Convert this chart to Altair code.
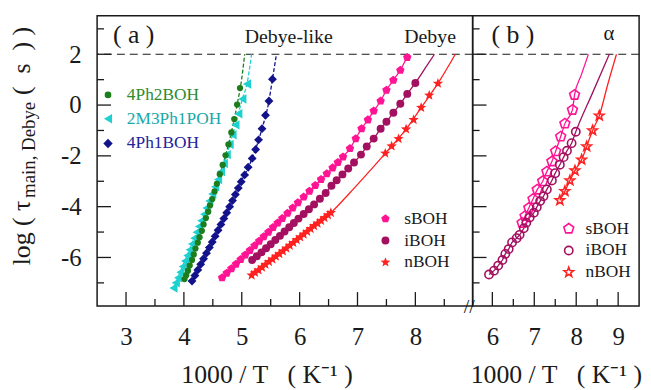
import altair as alt
import pandas as pd

FONT = "Liberation Serif"
INK = "#1a1a1a"

# ---------------- panel (a): Debye-like and Debye relaxation times ----------------
ph2_x = [4.01, 4.04, 4.07, 4.10, 4.14, 4.17, 4.20, 4.24, 4.27, 4.31, 4.34, 4.38, 4.42,
         4.45, 4.49, 4.53, 4.57, 4.62, 4.67, 4.72, 4.77, 4.82, 4.87, 4.92, 4.97]
ph2_y = [-6.85, -6.70, -6.52, -6.32, -6.10, -5.88, -5.65, -5.42, -5.20, -4.95, -4.70, -4.45, -4.20,
         -3.95, -3.70, -3.40, -3.10, -2.72, -2.36, -1.98, -1.55, -1.08, -0.55, 0.02, 0.67]
ph2_fit_x = [4.01, 4.30, 4.57, 4.77, 4.92, 5.00, 5.05]
ph2_fit_y = [-6.85, -4.95, -3.10, -1.55, 0.02, 1.05, 2.00]

m3p_x = [3.82, 3.86, 3.90, 3.94, 3.98, 4.02, 4.06, 4.10, 4.14, 4.18, 4.22, 4.26, 4.30, 4.35,
         4.39, 4.44, 4.49, 4.54, 4.59, 4.64, 4.69, 4.74, 4.79, 4.84, 4.89, 4.94, 5.01, 5.09]
m3p_y = [-7.20, -7.00, -6.80, -6.58, -6.36, -6.14, -5.92, -5.70, -5.47, -5.24, -5.01, -4.78, -4.55, -4.30,
         -4.05, -3.78, -3.50, -3.22, -2.93, -2.62, -2.30, -1.95, -1.55, -1.17, -0.78, -0.34, 0.24, 0.83]
m3p_fit_x = [3.82, 4.30, 4.69, 4.89, 5.01, 5.09, 5.17]
m3p_fit_y = [-7.20, -4.55, -2.30, -0.78, 0.24, 0.83, 2.00]

ph1_x = [4.14, 4.19, 4.24, 4.29, 4.34, 4.39, 4.44, 4.49, 4.54, 4.59, 4.64, 4.69, 4.74, 4.79,
         4.84, 4.89, 4.94, 4.99, 5.05, 5.11, 5.18, 5.24, 5.29, 5.35, 5.41, 5.47, 5.53]
ph1_y = [-6.93, -6.71, -6.49, -6.27, -6.05, -5.83, -5.61, -5.39, -5.16, -4.93, -4.70, -4.47, -4.24, -4.00,
         -3.76, -3.52, -3.27, -3.02, -2.75, -2.45, -2.10, -1.75, -1.37, -0.93, -0.40, 0.16, 1.02]
ph1_fit_x = [4.14, 4.64, 4.99, 5.18, 5.35, 5.47, 5.53, 5.60]
ph1_fit_y = [-6.93, -4.70, -3.02, -2.10, -0.93, 0.16, 1.02, 2.00]

sboh_x = [4.66, 4.74, 4.82, 4.90, 4.98, 5.06, 5.14, 5.22, 5.30, 5.38, 5.46, 5.54, 5.62, 5.70, 5.79,
          5.88, 5.97, 6.07, 6.17, 6.27, 6.37, 6.47, 6.57, 6.66, 6.75, 6.87, 6.97, 7.07, 7.18, 7.28,
          7.40, 7.50, 7.62, 7.74, 7.86]
sboh_y = [-6.80, -6.62, -6.44, -6.26, -6.08, -5.90, -5.72, -5.54, -5.36, -5.18, -5.00, -4.82, -4.64, -4.46, -4.26,
          -4.05, -3.84, -3.62, -3.39, -3.16, -2.93, -2.70, -2.47, -2.26, -2.04, -1.71, -1.32, -0.93, -0.58, -0.23,
          0.16, 0.59, 0.98, 1.37, 1.88]
sboh_fit_x = sboh_x + [7.90]
sboh_fit_y = sboh_y + [2.00]

iboh_x = [5.18, 5.26, 5.34, 5.42, 5.50, 5.58, 5.66, 5.74, 5.82, 5.90, 5.98, 6.07, 6.16, 6.25, 6.35,
          6.45, 6.55, 6.64, 6.74, 6.84, 6.94, 7.06, 7.16, 7.28, 7.40, 7.50, 7.62, 7.74, 7.86, 8.00]
iboh_y = [-6.10, -5.95, -5.80, -5.64, -5.48, -5.31, -5.15, -4.98, -4.81, -4.64, -4.47, -4.29, -4.10, -3.91, -3.69,
          -3.46, -3.18, -2.96, -2.73, -2.50, -2.26, -1.95, -1.63, -1.32, -0.93, -0.66, -0.30, 0.05, 0.44, 0.87]
iboh_fit_x = iboh_x + [8.17, 8.33]
iboh_fit_y = iboh_y + [1.45, 2.00]

nboh_x = [5.17, 5.23, 5.29, 5.35, 5.41, 5.47, 5.53, 5.59, 5.65, 5.71, 5.77, 5.83, 5.89, 5.95, 6.01,
          6.07, 6.13, 6.19, 6.25, 6.31, 6.37, 6.43, 6.49, 6.54,
          7.48, 7.59, 7.71, 7.84, 7.97, 8.10, 8.24, 8.39]
nboh_y = [-6.70, -6.60, -6.50, -6.39, -6.28, -6.17, -6.07, -5.96, -5.86, -5.75, -5.64, -5.53, -5.42, -5.31, -5.20,
          -5.09, -4.98, -4.87, -4.76, -4.66, -4.55, -4.44, -4.33, -4.24,
          -1.90, -1.62, -1.33, -0.95, -0.58, -0.10, 0.38, 0.85]
nboh_fit_x = [5.17, 5.53, 5.89, 6.25, 6.54, 6.85, 7.17, 7.48, 7.84, 8.10, 8.39, 8.69]
nboh_fit_y = [-6.70, -6.07, -5.42, -4.76, -4.24, -3.50, -2.70, -1.90, -0.95, -0.10, 0.85, 2.00]

# ---------------- panel (b): alpha relaxation times ----------------
sa_x = [6.71, 6.78, 6.87, 6.97, 7.07, 7.20, 7.30, 7.42, 7.51, 7.63, 7.73, 7.91, 7.96]
sa_y = [-4.64, -4.37, -4.05, -3.70, -3.33, -3.00, -2.62, -2.22, -1.82, -1.24, -0.73, -0.19, 0.40]
sa_fit_x = sa_x + [8.12, 8.29]
sa_fit_y = sa_y + [1.18, 2.00]

ia_x = [5.92, 6.04, 6.14, 6.24, 6.31, 6.39, 6.47, 6.58, 6.65, 6.75, 6.81, 6.89, 6.99, 7.06, 7.14,
        7.22, 7.30, 7.42, 7.50, 7.61, 7.70, 7.78, 7.89, 7.99]
ia_y = [-6.67, -6.52, -6.32, -6.10, -5.86, -5.67, -5.41, -5.24, -5.11, -4.85, -4.63, -4.43, -4.24, -4.02, -3.78,
        -3.59, -3.32, -2.97, -2.68, -2.35, -2.05, -1.80, -1.50, -1.05]
ia_fit_x = ia_x + [8.39, 8.79]
ia_fit_y = ia_y + [0.48, 2.00]

na_x = [7.61, 7.73, 7.85, 7.97, 8.13, 8.25, 8.39, 8.55]
na_y = [-3.75, -3.39, -2.97, -2.58, -2.15, -1.63, -1.00, -0.42]
na_fit_x = na_x + [8.75, 8.96]
na_fit_y = na_y + [0.80, 2.00]

# ---------------- ticks ----------------
xa_major = [3, 4, 5, 6, 7, 8]
xa_minor = [3.5, 4.5, 5.5, 6.5, 7.5, 8.5]
xb_major = [6, 7, 8, 9]
xb_minor = [6.5, 7.5, 8.5]
y_major = [-6, -4, -2, 0, 2]
y_minor = [-7, -5, -3, -1, 1, 3]
tau_limit = [2.0]

# ---------------- styling ----------------
GREEN, GREEN_T = "#1b7d1b", "#2e8b2e"
CYAN, CYAN_T = "#1fd0d0", "#1aa8a8"
NAVY, NAVY_T = "#12128a", "#22229a"
PINK = "#ff1493"
PURPLE = "#a3105f"
RED = "#ff2020"

STAR = "M0,-1L0.25,-0.34L0.951,-0.309L0.40,0.13L0.588,0.809L0,0.42L-0.588,0.809L-0.40,0.13L-0.951,-0.309L-0.25,-0.34Z"
PENT = "M0,-1L0.951,-0.309L0.588,0.809L-0.588,0.809L-0.951,-0.309Z"

W_A, W_B, H = 379, 168, 293
X_TITLE = "1000 / T\u00a0\u00a0\u00a0( K\u207b\u00b9 )"
NB = "\u00a0"


def x_axis(vals, title_x):
    return alt.Axis(values=vals, title=X_TITLE, ticks=False, tickSize=0, domain=False, grid=False,
                    labelFont=FONT, labelFontSize=25, labelColor=INK, labelPadding=39,
                    labelBaseline="alphabetic", labelFlush=False,
                    titleFont=FONT, titleFontSize=26, titleFontWeight="normal", titleColor=INK,
                    titleX=title_x, titleY=77, titleBaseline="alphabetic", titleAlign="center")


Y_AXIS_A = alt.Axis(values=y_major, title=None, ticks=False, tickSize=0, domain=False, grid=False,
                    labelFont=FONT, labelFontSize=25, labelColor=INK, labelPadding=16,
                    labelExpr="replace(datum.label, '\u2212', '-')")

XA = alt.X("x:Q", scale=alt.Scale(domain=[2.5, 8.99], nice=False, zero=False), axis=x_axis(xa_major, 171))
XB = alt.X("x:Q", scale=alt.Scale(domain=[5.53, 9.5], nice=False, zero=False), axis=x_axis(xb_major, 84))
YA = alt.Y("y:Q", scale=alt.Scale(domain=[-7.91, 3.52], nice=False, zero=False), axis=Y_AXIS_A)
YB = alt.Y("y:Q", scale=alt.Scale(domain=[-7.91, 3.52], nice=False, zero=False), axis=None)


def line(xs, ys, X, Y, color, dash=None, width=1.3):
    kw = dict(color=color, strokeWidth=width, interpolate="monotone", clip=True)
    if dash:
        kw["strokeDash"] = dash
    return alt.Chart(pd.DataFrame({"x": xs, "y": ys})).mark_line(**kw).encode(x=X, y=Y)


def points(xs, ys, X, Y, shape, color, size, filled=True):
    if filled:
        kw = dict(shape=shape, filled=True, color=color, size=size, opacity=1)
    else:
        kw = dict(shape=shape, filled=False, color=color, size=size, opacity=1, strokeWidth=1.6)
    return alt.Chart(pd.DataFrame({"x": xs, "y": ys})).mark_point(**kw).encode(x=X, y=Y)


def key_symbol(px, py, shape, color, size, filled=True):
    if filled:
        kw = dict(shape=shape, filled=True, color=color, size=size, opacity=1)
    else:
        kw = dict(shape=shape, filled=False, color=color, size=size, opacity=1, strokeWidth=1.6)
    return alt.Chart(pd.DataFrame({"k": [0]})).mark_point(**kw).encode(x=alt.value(px), y=alt.value(py))


def label(px, py, txt, size, color=INK, angle=0, baseline="alphabetic"):
    kw = dict(text=txt, font=FONT, fontSize=size, color=color, align="left", baseline=baseline)
    if angle:
        kw["angle"] = angle
    return alt.Chart(pd.DataFrame({"k": [0]})).mark_text(**kw).encode(x=alt.value(px), y=alt.value(py))


def xticks(vals, X, length):
    return alt.Chart(pd.DataFrame({"x": vals})).mark_rule(color=INK, strokeWidth=1.3).encode(
        x=X, y=alt.value(H), y2=alt.value(H - length))


def yticks(vals, Y, length):
    return alt.Chart(pd.DataFrame({"y": vals})).mark_rule(color=INK, strokeWidth=1.3).encode(
        y=Y, x=alt.value(0), x2=alt.value(length))


def limit_line(X, Y):
    return alt.Chart(pd.DataFrame({"y": tau_limit})).mark_rule(
        color=INK, strokeWidth=1.2, strokeDash=[8, 5]).encode(y=Y)


panel_a = alt.layer(
    limit_line(XA, YA),
    xticks(xa_major, XA, 14), xticks(xa_minor, XA, 7),
    yticks(y_major, YA, 14), yticks(y_minor, YA, 7),
    line(ph2_fit_x, ph2_fit_y, XA, YA, GREEN, dash=[4, 2]),
    line(m3p_fit_x, m3p_fit_y, XA, YA, CYAN, dash=[4, 2]),
    line(ph1_fit_x, ph1_fit_y, XA, YA, NAVY, dash=[4, 2]),
    line(sboh_fit_x, sboh_fit_y, XA, YA, PINK),
    line(iboh_fit_x, iboh_fit_y, XA, YA, PURPLE),
    line(nboh_fit_x, nboh_fit_y, XA, YA, RED),
    points(m3p_x, m3p_y, XA, YA, "triangle-left", CYAN, 90),
    points(ph2_x, ph2_y, XA, YA, "circle", GREEN, 40),
    points(ph1_x, ph1_y, XA, YA, "diamond", NAVY, 80),
    points(sboh_x, sboh_y, XA, YA, PENT, PINK, 80),
    points(iboh_x, iboh_y, XA, YA, "circle", PURPLE, 64),
    points(nboh_x, nboh_y, XA, YA, STAR, RED, 120),
    # legends
    key_symbol(11, 80, "circle", GREEN, 45), label(30, 80, "4Ph2BOH", 17.5, GREEN_T, baseline="middle"),
    key_symbol(11, 104, "triangle-left", CYAN, 90), label(30, 104, "2M3Ph1POH", 17.5, CYAN_T, baseline="middle"),
    key_symbol(11, 129, "diamond", NAVY, 90), label(30, 129, "4Ph1BOH", 17.5, NAVY_T, baseline="middle"),
    key_symbol(291, 205, PENT, PINK, 80), label(310, 205, "sBOH", 17.5, baseline="middle"),
    key_symbol(291, 227, "circle", PURPLE, 64), label(310, 227, "iBOH", 17.5, baseline="middle"),
    key_symbol(291, 249, STAR, RED, 110), label(310, 249, "nBOH", 17.5, baseline="middle"),
    # annotations
    label(16, 28, "( a )", 26), label(149, 28, "Debye-like", 20), label(310, 28, "Debye", 20),
    # y-axis title
    label(-68, 252, "log ( \u03c4", 26, angle=270),
    label(-63, 184, "main, Debye", 19, angle=270),
    label(-68, 80, "(" + NB + NB + "s" + NB + NB + ")" + NB + ")", 26, angle=270),
).properties(width=W_A, height=H)

panel_b = alt.layer(
    limit_line(XB, YB),
    xticks(xb_major, XB, 14), xticks(xb_minor, XB, 7),
    yticks(y_major, YB, 14), yticks(y_minor, YB, 7),
    line(sa_fit_x, sa_fit_y, XB, YB, PINK),
    line(ia_fit_x, ia_fit_y, XB, YB, PURPLE),
    line(na_fit_x, na_fit_y, XB, YB, RED),
    points(sa_x, sa_y, XB, YB, PENT, PINK, 110, filled=False),
    points(ia_x, ia_y, XB, YB, "circle", PURPLE, 70, filled=False),
    points(na_x, na_y, XB, YB, STAR, RED, 100, filled=False),
    key_symbol(97, 215, PENT, PINK, 110, filled=False), label(114, 215, "sBOH", 17.5, baseline="middle"),
    key_symbol(97, 237, "circle", PURPLE, 70, filled=False), label(114, 237, "iBOH", 17.5, baseline="middle"),
    key_symbol(97, 259, STAR, RED, 100, filled=False), label(114, 259, "nBOH", 17.5, baseline="middle"),
    label(19, 28, "( b )", 26), label(132, 25, "\u03b1", 21),
    label(-9, H + 7, "//", 20),
).properties(width=W_B, height=H)

chart = alt.hconcat(panel_a, panel_b, spacing=0, bounds="flush").properties(
    padding={"left": 8, "top": 13, "right": 8, "bottom": 0},
    background="white",
).configure_view(stroke=INK, strokeWidth=1.5)

chart.save("out.html", embed_options={"renderer": "svg", "actions": False})
